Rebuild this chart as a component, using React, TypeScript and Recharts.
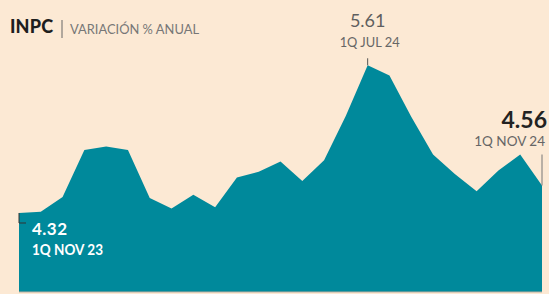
import React from 'react';
import { AreaChart, Area, XAxis, YAxis, LabelList } from 'recharts';

const quincenas = [
  '1Q NOV 23', '2Q NOV 23', '1Q DIC 23', '2Q DIC 23', '1Q ENE 24', '2Q ENE 24',
  '1Q FEB 24', '2Q FEB 24', '1Q MAR 24', '2Q MAR 24', '1Q ABR 24', '2Q ABR 24',
  '1Q MAY 24', '2Q MAY 24', '1Q JUN 24', '2Q JUN 24', '1Q JUL 24', '2Q JUL 24',
  '1Q AGO 24', '2Q AGO 24', '1Q SEP 24', '2Q SEP 24', '1Q OCT 24', '2Q OCT 24',
  '1Q NOV 24',
];

const inflacion = [
  4.32, 4.33, 4.46, 4.87, 4.90, 4.87,
  4.45, 4.36, 4.48, 4.37, 4.63, 4.68,
  4.77, 4.60, 4.78, 5.17, 5.61, 5.52,
  5.16, 4.83, 4.66, 4.51, 4.69, 4.83,
  4.56,
];

const data = quincenas.map((q, i) => ({ q, v: inflacion[i] }));

const BG = '#fce9d4';
const TEAL = '#00899b';
const FONT = 'Lato, "Open Sans", sans-serif';

const PointLabel = (props: any) => {
  const { x, y, index, value } = props;
  const first = 0;
  const peak = 16;
  const last = quincenas.length - 1;

  if (index === first) {
    return (
      <g>
        <line x1={x} y1={y} x2={x} y2={y + 10} stroke="#333" strokeWidth={1} />
        <line x1={x} y1={y + 10} x2={x + 7} y2={y + 10} stroke="#333" strokeWidth={1} />
        <text x={x + 13} y={y + 22} fill="#fff" fontFamily={FONT} fontWeight={700} fontSize={17} textLength={35}>
          {value.toFixed(2)}
        </text>
        <text x={x + 13} y={y + 42} fill="#fff" fontFamily={FONT} fontWeight={700} fontSize={15} textLength={71} lengthAdjust="spacingAndGlyphs">
          {quincenas[index]}
        </text>
      </g>
    );
  }
  if (index === peak) {
    return (
      <g>
        <line x1={x} y1={y - 7} x2={x} y2={y} stroke="#555" strokeWidth={1} />
        <text x={x} y={y - 38} textAnchor="middle" fill="#5f5f5f" fontFamily={FONT} fontSize={18}>
          {value.toFixed(2)}
        </text>
        <text x={x + 2} y={y - 18} textAnchor="middle" fill="#666" fontFamily={FONT} fontSize={13.5} textLength={60} lengthAdjust="spacingAndGlyphs">
          {quincenas[index]}
        </text>
      </g>
    );
  }
  if (index === last) {
    return (
      <g>
        <line x1={x} y1={y - 31} x2={x} y2={y} stroke="#777" strokeWidth={1} />
        <text x={x + 5} y={y - 58} textAnchor="end" fill="#222" fontFamily={FONT} fontWeight={700} fontSize={23}>
          {value.toFixed(2)}
        </text>
        <text x={x + 3} y={y - 40} textAnchor="end" fill="#666" fontFamily={FONT} fontSize={13.5}>
          {quincenas[index]}
        </text>
      </g>
    );
  }
  return null;
};

export default function App() {
  return (
    <div style={{ position: 'fixed', left: 0, top: 0, width: 549, height: 294, background: BG, overflow: 'hidden' }}>
      <svg width={549} height={50} style={{ position: 'absolute', left: 0, top: 0 }}>
        <text x={10} y={33} fill="#1e1e1e" fontFamily={FONT} fontWeight={900} fontSize={18} textLength={43}>
          INPC
        </text>
        <line x1={62} y1={20} x2={62} y2={38} stroke="#666" strokeWidth={1} />
        <text x={70} y={34} fill="#777" fontFamily={FONT} fontSize={13} textLength={129} lengthAdjust="spacingAndGlyphs">
          VARIACIÓN % ANUAL
        </text>
      </svg>
      <AreaChart width={549} height={294} data={data} margin={{ top: 0, right: 7, bottom: 0, left: 19 }}>
        <XAxis dataKey="q" tick={false} tickLine={false} height={2} axisLine={{ stroke: '#b8ad9f' }} />
        <YAxis hide domain={[3.63, 6.18]} type="number" />
        <Area
          type="linear"
          dataKey="v"
          stroke="none"
          fill={TEAL}
          fillOpacity={1}
          isAnimationActive={false}
        >
          <LabelList dataKey="v" content={PointLabel} />
        </Area>
      </AreaChart>
    </div>
  );
}
